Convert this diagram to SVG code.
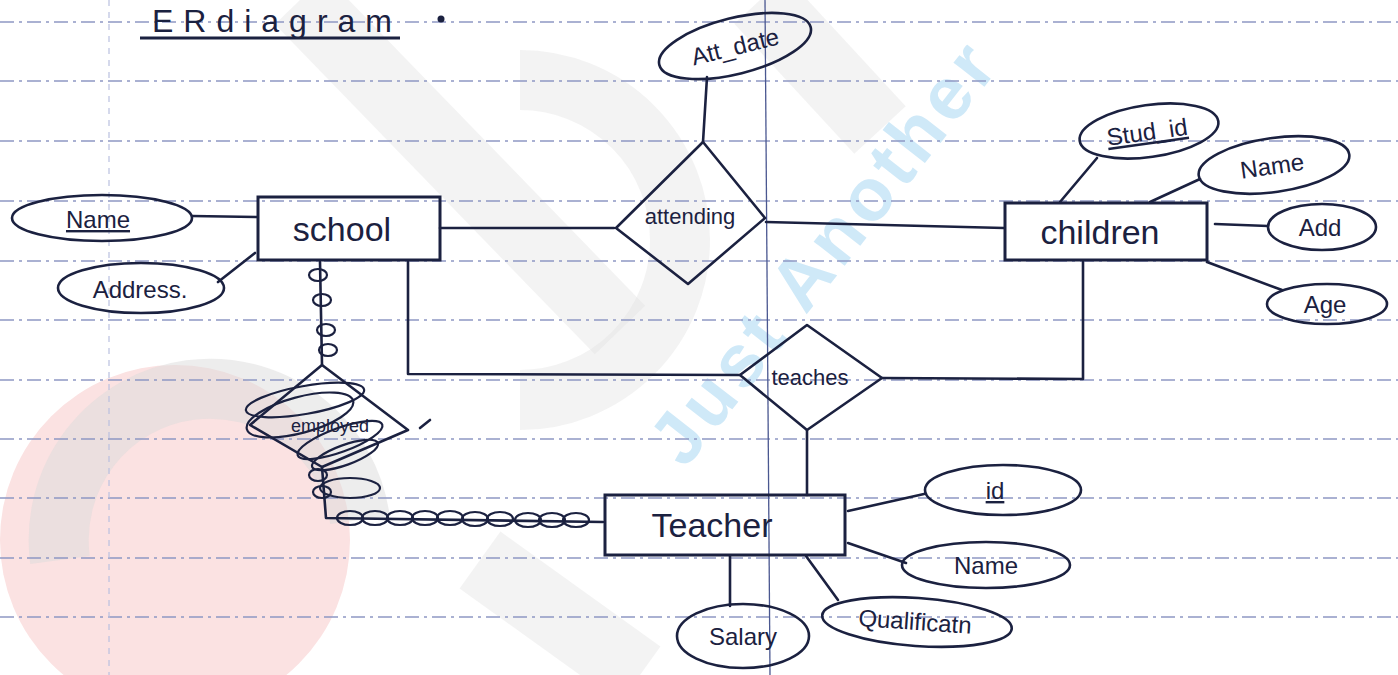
<svg xmlns="http://www.w3.org/2000/svg" width="1398" height="675" viewBox="0 0 1398 675">
<style>
.ink{stroke:#1b2140;stroke-width:2.6;fill:none;stroke-linecap:round;stroke-linejoin:round}
.box{stroke:#1b2140;stroke-width:3;fill:none}
.attr{stroke:#1b2140;stroke-width:2.6;fill:none}
.rule{stroke:#8e98c4;stroke-width:1.6;stroke-dasharray:14 5 3 5}
.t{font-family:"Liberation Sans","DejaVu Sans",sans-serif;fill:#1b2140;text-anchor:middle}
.ent{font-size:34px}
.at{font-size:24px}
.rel{font-size:22px}
.scr{stroke:#1b2140;stroke-width:2.2;fill:none}
</style>
<defs>
<ellipse id="loop" cx="0" cy="0" rx="13" ry="7" class="scr"/>
<ellipse id="vloop" cx="0" cy="0" rx="9" ry="6" class="scr"/>
</defs>
<rect width="1398" height="675" fill="#ffffff"/>
<!-- watermark -->
<g id="watermark">
<circle cx="175" cy="540" r="175" fill="#fbe2e2"/>
<path d="M60 560 A150 150 0 0 1 360 520" stroke="#dcdcdc" stroke-width="60" fill="none" opacity="0.5"/>
<path d="M300 0 L620 330" stroke="#e2e2e2" stroke-width="70" fill="none" opacity="0.4"/>
<path d="M520 80 A160 160 0 1 1 520 400" stroke="#e2e2e2" stroke-width="60" fill="none" opacity="0.4"/>
<path d="M760 0 L880 130" stroke="#e2e2e2" stroke-width="70" fill="none" opacity="0.4"/>
<path d="M480 560 L640 675" stroke="#e2e2e2" stroke-width="70" fill="none" opacity="0.4"/>
<text x="0" y="0" transform="translate(685,470) rotate(-52)" font-family="Liberation Sans,sans-serif" font-weight="bold" font-size="74" fill="#cfe9f8" textLength="510" lengthAdjust="spacing">Just Another</text>
</g>
<!-- paper rules -->
<g id="paper">
<line class="rule" x1="0" y1="22" x2="1398" y2="22"/>
<line class="rule" x1="0" y1="81" x2="1398" y2="81"/>
<line class="rule" x1="0" y1="141" x2="1398" y2="141"/>
<line class="rule" x1="0" y1="201" x2="1398" y2="201"/>
<line class="rule" x1="0" y1="261" x2="1398" y2="261"/>
<line class="rule" x1="0" y1="320" x2="1398" y2="320"/>
<line class="rule" x1="0" y1="380" x2="1398" y2="380"/>
<line class="rule" x1="0" y1="439" x2="1398" y2="439"/>
<line class="rule" x1="0" y1="498" x2="1398" y2="498"/>
<line class="rule" x1="0" y1="558" x2="1398" y2="558"/>
<line class="rule" x1="0" y1="617" x2="1398" y2="617"/>
<line x1="109" y1="0" x2="109" y2="675" stroke="#b9c0df" stroke-width="1.2" stroke-dasharray="6 6"/>
<line x1="765" y1="0" x2="770" y2="675" stroke="#4a5790" stroke-width="1.3"/>
</g>
<!-- title -->
<g id="title">
<text x="272" y="32" class="t" font-size="32" textLength="240" lengthAdjust="spacing">ERdiagram</text>
<line x1="140" y1="38" x2="400" y2="38" stroke="#1b2140" stroke-width="3"/>
<circle cx="441" cy="19" r="3.5" fill="#1b2140"/>
</g>
<!-- connectors -->
<g id="connectors" class="ink">
<line x1="192" y1="216" x2="257" y2="217"/>
<line x1="218" y1="282" x2="255" y2="253"/>
<line x1="440" y1="228" x2="614" y2="228"/>
<line x1="707" y1="77" x2="703" y2="142"/>
<line x1="766" y1="222" x2="1004" y2="228"/>
<line x1="1097" y1="158" x2="1060" y2="202"/>
<line x1="1200" y1="179" x2="1150" y2="202"/>
<line x1="1215" y1="224" x2="1268" y2="226"/>
<line x1="1207" y1="262" x2="1282" y2="290"/>
<polyline points="408,262 408,374 740,375"/>
<polyline points="882,378 1083,379 1083,262"/>
<line x1="807" y1="430" x2="807" y2="495"/>
<line x1="848" y1="511" x2="924" y2="494"/>
<line x1="848" y1="543" x2="906" y2="563"/>
<line x1="806" y1="556" x2="838" y2="600"/>
<line x1="730" y1="556" x2="730" y2="606"/>
<polyline points="320,262 322,365"/>
<polyline points="322,467 326,518 603,522"/>
</g>
<!-- scribbles over employs relationship -->
<g id="scribble">
<use href="#vloop" x="318" y="275"/>
<use href="#vloop" x="322" y="300"/>
<use href="#vloop" x="326" y="330"/>
<use href="#vloop" x="328" y="350"/>
<use href="#vloop" x="318" y="475"/>
<use href="#vloop" x="322" y="492"/>
<use href="#loop" x="350" y="518"/>
<use href="#loop" x="375" y="518"/>
<use href="#loop" x="400" y="518"/>
<use href="#loop" x="425" y="518"/>
<use href="#loop" x="450" y="518"/>
<use href="#loop" x="475" y="519"/>
<use href="#loop" x="500" y="519"/>
<use href="#loop" x="528" y="520"/>
<use href="#loop" x="552" y="520"/>
<use href="#loop" x="576" y="520"/>
<ellipse cx="305" cy="400" rx="60" ry="14" transform="rotate(-10 305 400)" class="scr"/>
<ellipse cx="300" cy="415" rx="55" ry="18" transform="rotate(-15 300 415)" class="scr"/>
<ellipse cx="340" cy="440" rx="45" ry="12" transform="rotate(-20 340 440)" class="scr"/>
<ellipse cx="345" cy="455" rx="35" ry="10" transform="rotate(-20 345 455)" class="scr"/>
<ellipse cx="350" cy="488" rx="30" ry="10" class="scr"/>
<line x1="420" y1="428" x2="430" y2="420" class="ink"/>
</g>
<!-- entities -->
<g id="school">
<rect x="258" y="197" width="182" height="63" class="box"/>
<text x="342" y="241" class="t ent">school</text>
</g>
<g id="children">
<rect x="1005" y="203" width="202" height="57" class="box"/>
<text x="1100" y="244" class="t ent">children</text>
</g>
<g id="teacher">
<rect x="605" y="495" width="240" height="60" class="box"/>
<text x="712" y="537" class="t ent">Teacher</text>
</g>
<!-- relationships -->
<g id="attending">
<polygon points="703,142 765,218 688,284 616,228" class="ink"/>
<text x="690" y="224" class="t rel">attending</text>
</g>
<g id="teaches">
<polygon points="807,325 882,378 807,430 740,375" class="ink"/>
<text x="810" y="385" class="t rel">teaches</text>
</g>
<g id="employed">
<polygon points="322,365 408,430 322,467 250,425" class="ink"/>
<text x="330" y="432" class="t" font-size="18">employed</text>
</g>
<!-- attributes -->
<g id="school-name">
<ellipse cx="102" cy="218" rx="90" ry="23" class="attr"/>
<text x="98" y="228" class="t at" text-decoration="underline">Name</text>
</g>
<g id="school-address">
<ellipse cx="141" cy="288" rx="83" ry="25" class="attr"/>
<text x="140" y="298" class="t at">Address.</text>
</g>
<g id="att-date">
<ellipse cx="735" cy="46" rx="78" ry="28" transform="rotate(-14 735 46)" class="attr"/>
<text x="735" y="55" class="t at" transform="rotate(-14 735 46)">Att_date</text>
</g>
<g id="stud-id">
<ellipse cx="1149" cy="131" rx="70" ry="26" transform="rotate(-8 1149 131)" class="attr"/>
<text x="1147" y="140" class="t at" transform="rotate(-8 1149 131)" text-decoration="underline">Stud_id</text>
</g>
<g id="child-name">
<ellipse cx="1274" cy="165" rx="76" ry="27" transform="rotate(-8 1274 165)" class="attr"/>
<text x="1272" y="174" class="t at" transform="rotate(-8 1274 165)">Name</text>
</g>
<g id="child-add">
<ellipse cx="1322" cy="227" rx="54" ry="23" class="attr"/>
<text x="1320" y="236" class="t at">Add</text>
</g>
<g id="child-age">
<ellipse cx="1327" cy="304" rx="60" ry="20" class="attr"/>
<text x="1325" y="313" class="t at">Age</text>
</g>
<g id="teacher-id">
<ellipse cx="1003" cy="490" rx="78" ry="25" class="attr"/>
<text x="995" y="499" class="t at" text-decoration="underline">id</text>
</g>
<g id="teacher-name">
<ellipse cx="986" cy="565" rx="84" ry="23" class="attr"/>
<text x="986" y="574" class="t at">Name</text>
</g>
<g id="teacher-qualification">
<ellipse cx="917" cy="622" rx="95" ry="24" transform="rotate(4 917 622)" class="attr"/>
<text x="915" y="630" class="t at" transform="rotate(4 917 622)">Qualificatn</text>
</g>
<g id="teacher-salary">
<ellipse cx="743" cy="636" rx="66" ry="32" class="attr"/>
<text x="743" y="645" class="t at">Salary</text>
</g>
</svg>
